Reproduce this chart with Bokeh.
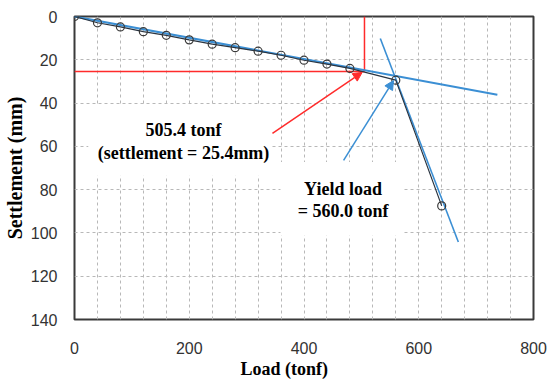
from bokeh.plotting import figure
from bokeh.models import (Range1d, FixedTicker, Label, Arrow, Title,
                          NormalHead, ColumnDataSource, Grid)
from bokeh.embed import file_html
from bokeh.resources import INLINE

# ---- data ----
loads = [0, 40, 80, 120, 160, 200, 240, 280, 320, 360, 400, 440, 480, 560, 640]
settlements = [0, 2.9, 4.8, 7.0, 8.7, 10.8, 12.8, 14.4, 16.0, 17.9, 20.2, 22.0, 24.0, 29.4, 87.5]

# tangent lines (load, settlement end points)
tangent1_x = [-12, 737]
tangent1_y = [-0.6, 36.2]
tangent2_x = [533, 669]
tangent2_y = [10.2, 104.2]

# criterion point 505.4 tonf at 25.4 mm
crit_load = 505.4
crit_settle = 25.4
yield_load = 560.0

x_ticks = [0, 200, 400, 600, 800]
y_ticks = [0, 20, 40, 60, 80, 100, 120, 140]
grid_x = list(range(0, 801, 40))
grid_y = list(range(0, 141, 20))

BLUE = "#3b8fd4"
RED = "#ff2b2b"
DARK = "#2a3440"
SERIF = "Liberation Serif"
SANS = "Liberation Sans"

p = figure(width=550, height=381, output_backend="svg", toolbar_location=None,
           x_range=Range1d(0, 800), y_range=Range1d(140, 0),
           min_border_left=74, min_border_right=17, min_border_top=16, min_border_bottom=62)
p.background_fill_color = "white"
p.border_fill_color = "white"
p.outline_line_color = "#3a3a3a"
p.outline_line_width = 2

# grid
p.xgrid.visible = False
p.ygrid.visible = False
gx = Grid(dimension=0, ticker=FixedTicker(ticks=grid_x), grid_line_color="#b8b8b8",
          grid_line_dash="3 3", grid_line_width=1)
gy = Grid(dimension=1, ticker=FixedTicker(ticks=grid_y), grid_line_color="#b8b8b8",
          grid_line_dash="3 3", grid_line_width=1)
p.add_layout(gx)
p.add_layout(gy)

# axes
p.xaxis.ticker = FixedTicker(ticks=x_ticks)
p.yaxis.ticker = FixedTicker(ticks=y_ticks)
for ax in (p.xaxis, p.yaxis):
    ax.axis_line_color = None
    ax.major_tick_line_color = None
    ax.minor_tick_line_color = None
    ax.major_label_text_font = SANS
    ax.major_label_text_font_size = "16px"
    ax.major_label_text_color = "#333333"
    ax.axis_label_text_font = SERIF
    ax.axis_label_text_font_style = "bold"
    ax.axis_label_text_color = "black"
p.yaxis.axis_label = "Settlement (mm)"
p.yaxis.axis_label_text_font_size = "20px"
p.xaxis.major_label_standoff = 16
p.yaxis.major_label_standoff = 11
p.yaxis.axis_label_standoff = 2

# x-axis title, a little left of centre as in the reference
p.add_layout(Title(text="Load (tonf)", align="left", offset=166, standoff=0,
                   text_font=SERIF, text_font_style="bold", text_font_size="18px",
                   text_color="black"), "below")

# white boxes behind the annotation texts (cover grid only)
p.quad(left=[24, 359], right=[341, 571], top=[40.8, 67.2], bottom=[73.6, 101.2],
       fill_color="white", line_color=None)

# red criterion lines
p.line([0, crit_load], [crit_settle, crit_settle], line_color=RED, line_width=1.5)
p.line([crit_load, crit_load], [0, crit_settle], line_color=RED, line_width=1.5)

# tangent lines
p.line(tangent1_x, tangent1_y, line_color=BLUE, line_width=2)
p.line(tangent2_x, tangent2_y, line_color=BLUE, line_width=1.6)

# measured curve
src = ColumnDataSource(dict(x=loads, y=settlements))
p.line("x", "y", source=src, line_color=DARK, line_width=1.2)
p.scatter("x", "y", source=src, size=8, marker="circle", fill_color=None,
          line_color="#3a3a3a", line_width=1.2)

# arrows
p.add_layout(Arrow(x_start=345, y_start=54.0, x_end=crit_load - 4, y_end=crit_settle + 0.4,
                   line_color=RED, line_width=1.5,
                   end=NormalHead(size=9, fill_color=RED, line_color=RED)))
p.add_layout(Arrow(x_start=469, y_start=66.5, x_end=yield_load - 4, y_end=29.6,
                   line_color=BLUE, line_width=1.5,
                   end=NormalHead(size=9, fill_color=BLUE, line_color=BLUE)))

# texts
def lab(x, y, t, size="18px"):
    p.add_layout(Label(x=x, y=y, text=t, text_align="center", text_baseline="middle",
                       text_font=SERIF, text_font_style="bold", text_font_size=size,
                       text_color="black"))

lab(190, 52.5, "505.4 tonf")
lab(190, 63.0, "(settlement = 25.4mm)")
lab(468, 79.5, "Yield load")
lab(468, 89.8, "= 560.0 tonf")

open("out.html", "w").write(file_html(p, INLINE))
